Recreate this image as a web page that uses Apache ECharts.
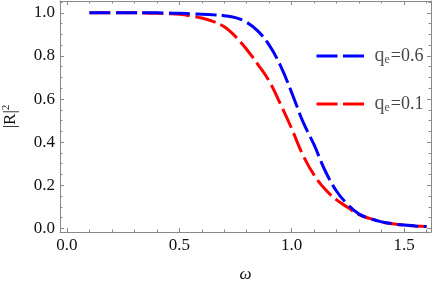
<!DOCTYPE html>
<html><head><meta charset="utf-8">
<script src="https://cdn.jsdelivr.net/npm/echarts@6/dist/echarts.min.js"></script>
<style>html,body{margin:0;padding:0;background:#fff}#c{width:436px;height:286px}</style>
</head><body><div id="c"></div>
<script>
const omega = [0.1,0.15,0.2,0.25,0.3,0.35,0.4,0.45,0.5,0.55,0.6,0.65,0.7,0.75,0.8,0.85,0.9,0.95,1.0,1.05,1.1,1.15,1.2,1.25,1.3,1.35,1.4,1.45,1.5,1.55,1.6];
const r06 = [1.0,1.0,1.0,1.0,1.0,1.0,1.0,0.999,0.998,0.996,0.994,0.991,0.987,0.978,0.956,0.915,0.85,0.755,0.63,0.495,0.387,0.265,0.172,0.11,0.066,0.045,0.03,0.021,0.015,0.011,0.008];
const r01 = [1.0,1.0,1.0,1.0,1.0,0.999,0.998,0.996,0.993,0.986,0.976,0.96,0.935,0.89,0.83,0.76,0.683,0.577,0.463,0.34,0.247,0.18,0.132,0.097,0.064,0.045,0.03,0.021,0.015,0.011,0.008];
const xMajor = [0,0.5,1.0,1.5];
const xMinor = [0,0.1,0.2,0.3,0.4,0.5,0.6,0.7,0.8,0.9,1.0,1.1,1.2,1.3,1.4,1.5,1.6];
const yMajor = [0,0.2,0.4,0.6,0.8,1.0];
const yMinor = [0,0.05,0.1,0.15,0.2,0.25,0.3,0.35,0.4,0.45,0.5,0.55,0.6,0.65,0.7,0.75,0.8,0.85,0.9,0.95,1.0,1.05];
const labels = {q06:'0.6', q01:'0.1'};

const X0=-0.031, X1=1.62, Y0=-0.017, Y1=1.055;
const axisCol = '#8a8a8a';
const font = 'Liberation Serif';

function xAx(pos, vals, len, showLine, showLabel){
  return {type:'value', position:pos, min:X0, max:X1, gridIndex:0,
    axisLine:{show:showLine, onZero:false, lineStyle:{color:axisCol,width:1}},
    axisTick:{show:true, inside:true, length:len, customValues:vals, lineStyle:{color:axisCol,width:1}},
    axisLabel:{show:showLabel, customValues:xMajor, margin:5, color:'#111', fontFamily:font, fontSize:17,
      formatter:v=>v.toFixed(1)},
    splitLine:{show:false}};
}
function yAx(pos, vals, len, showLine, showLabel){
  return {type:'value', position:pos, min:Y0, max:Y1, gridIndex:0,
    axisLine:{show:showLine, onZero:false, lineStyle:{color:axisCol,width:1}},
    axisTick:{show:true, inside:true, length:len, customValues:vals, lineStyle:{color:axisCol,width:1}},
    axisLabel:{show:showLabel, customValues:yMajor, margin:5, color:'#111', fontFamily:font, fontSize:17,
      formatter:v=>v.toFixed(1)},
    splitLine:{show:false}};
}
const xs = [xAx('bottom',xMajor,4,true,true), xAx('bottom',xMinor,2.5,false,false),
            xAx('top',xMajor,4,true,false), xAx('top',xMinor,2.5,false,false)];
xs[0].name='ω'; xs[0].nameLocation='middle'; xs[0].nameGap=34;
xs[0].nameTextStyle={fontFamily:font,fontStyle:'italic',fontSize:17,color:'#111'};
const ys = [yAx('left',yMajor,4,true,true), yAx('left',yMinor,2.5,false,false),
            yAx('right',yMajor,4,true,false), yAx('right',yMinor,2.5,false,false)];
ys[0].name='|R|{s|2}'; ys[0].nameLocation='middle'; ys[0].nameGap=40; ys[0].nameRotate=90;
ys[0].nameTextStyle={fontFamily:font,fontSize:17,color:'#111',rich:{s:{fontFamily:font,fontSize:11,color:'#111',verticalAlign:'top',padding:[0,0,8,0]}}};

const option = {
  animation:false,
  backgroundColor:'#fff',
  grid:{left:60,right:5,top:1,bottom:54,containLabel:false,outerBoundsMode:'none'},
  xAxis: xs,
  yAxis: ys,
  legend:{
    orient:'vertical', left:315, top:46, padding:0, itemWidth:48, itemHeight:14, itemGap:28,
    data:['q06','q01'],
    lineStyle:{type:[21,5.5], width:3},
    itemStyle:{opacity:0},
    textStyle:{fontFamily:font, fontSize:18, color:'#444', padding:[0,0,0,5],
      rich:{q:{fontFamily:font,fontSize:20,color:'#555'}, s:{fontFamily:font,fontSize:12,color:'#555',verticalAlign:'bottom',padding:[7,1,0,0]}, t:{fontFamily:font,fontSize:18,color:'#444'}}},
    formatter:n=>'{q|q}{s|e}{t|='+labels[n]+'}'
  },
  series:[
    {name:'q01', type:'line', xAxisIndex:0, yAxisIndex:0, showSymbol:false, symbol:'none', smooth:0.4,
      data: omega.map((w,i)=>[w,r01[i]]), color:'#ff0000',
      lineStyle:{color:'#ff0000', width:3, type:[21,5.5]}},
    {name:'q06', type:'line', xAxisIndex:0, yAxisIndex:0, showSymbol:false, symbol:'none', smooth:0.4,
      data: omega.map((w,i)=>[w,r06[i]]), color:'#0000ff',
      lineStyle:{color:'#0000ff', width:3, type:[21,5.5]}}
  ]
};
echarts.init(document.getElementById('c')).setOption(option);
</script></body></html>
